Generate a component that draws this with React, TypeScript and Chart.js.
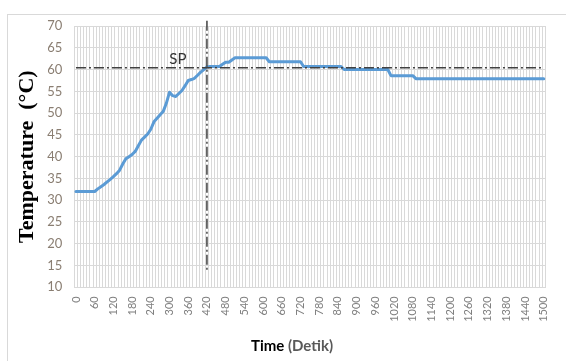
import React, { useEffect, useRef } from "react";
import { Chart, registerables } from "chart.js";

Chart.register(...registerables);

// Time in seconds (one category every 10 s)
const TIME_S = [
  0, 10, 20, 30, 40, 50, 60, 70, 80, 90, 100, 110, 120, 130, 140, 150, 160, 170, 180, 190,
  200, 210, 220, 230, 240, 250, 260, 270, 280, 290, 300, 310, 320, 330, 340, 350, 360, 370, 380, 390,
  400, 410, 420, 430, 440, 450, 460, 470, 480, 490, 500, 510, 520, 530, 540, 550, 560, 570, 580, 590,
  600, 610, 620, 630, 640, 650, 660, 670, 680, 690, 700, 710, 720, 730, 740, 750, 760, 770, 780, 790,
  800, 810, 820, 830, 840, 850, 860, 870, 880, 890, 900, 910, 920, 930, 940, 950, 960, 970, 980, 990,
  1000, 1010, 1020, 1030, 1040, 1050, 1060, 1070, 1080, 1090, 1100, 1110, 1120, 1130, 1140, 1150, 1160, 1170, 1180, 1190,
  1200, 1210, 1220, 1230, 1240, 1250, 1260, 1270, 1280, 1290, 1300, 1310, 1320, 1330, 1340, 1350, 1360, 1370, 1380, 1390,
  1400, 1410, 1420, 1430, 1440, 1450, 1460, 1470, 1480, 1490, 1500,
];

// Measured temperature (°C)
const TEMPERATURE_C = [
  32, 32, 32, 32, 32, 32, 32, 32.6, 33.1, 33.6,
  34.2, 34.8, 35.4, 36.1, 36.9, 38.3, 39.5, 40.0, 40.5, 41.2,
  42.5, 43.8, 44.5, 45.2, 46.3, 48.0, 48.8, 49.6, 50.4, 52.3,
  54.8, 54.0, 53.8, 54.5, 55.2, 56.3, 57.5, 57.7, 58.0, 58.7,
  59.4, 60.0, 60.6, 60.7, 60.7, 60.7, 60.7, 61.2, 61.7, 61.7,
  62.2, 62.7, 62.7, 62.7, 62.7, 62.7, 62.7, 62.7, 62.7, 62.7,
  62.7, 62.7, 61.8, 61.8, 61.8, 61.8, 61.8, 61.8, 61.8, 61.8,
  61.8, 61.8, 61.8, 60.7, 60.7, 60.7, 60.7, 60.7, 60.7, 60.7,
  60.7, 60.7, 60.7, 60.7, 60.7, 60.7, 60.0, 60.0, 60.0, 60.0,
  60.0, 60.0, 60.0, 60.0, 60.0, 60.0, 60.0, 60.0, 60.0, 60.0,
  60.0, 58.6, 58.6, 58.6, 58.6, 58.6, 58.6, 58.6, 58.6, 57.9,
  57.9, 57.9, 57.9, 57.9, 57.9, 57.9, 57.9, 57.9, 57.9, 57.9,
  57.9, 57.9, 57.9, 57.9, 57.9, 57.9, 57.9, 57.9, 57.9, 57.9,
  57.9, 57.9, 57.9, 57.9, 57.9, 57.9, 57.9, 57.9, 57.9, 57.9,
  57.9, 57.9, 57.9, 57.9, 57.9, 57.9, 57.9, 57.9, 57.9, 57.9,
  57.9,
];

const SETPOINT_C = 60.4;
const SETPOINT_LABEL = "SP";
const MARKER_TIME_S = 420;
const MARKER_RANGE_C = [71.2, 13.6];
const X_LABEL_EVERY_S = 60;
const Y_MIN = 10;
const Y_MAX = 70;
const Y_STEP = 5;
const Y_TITLE = "Temperature  (°C)";
const X_TITLE_MAIN = "Time";
const X_TITLE_UNIT = "(Detik)";

export default function App() {
  const ref = useRef<HTMLCanvasElement>(null);

  useEffect(() => {
    const canvas = ref.current;
    if (!canvas) return;

    const framePlugin = {
      id: "frame",
      beforeDraw(chart: any) {
        const ctx = chart.ctx;
        ctx.save();
        ctx.fillStyle = "#ffffff";
        ctx.fillRect(0, 0, chart.width, chart.height);
        ctx.strokeStyle = "#d9d9d9";
        ctx.lineWidth = 1;
        ctx.strokeRect(7.5, 14.5, 700, 500);
        ctx.restore();
      },
      afterDraw(chart: any) {
        const ctx = chart.ctx;
        const area = chart.chartArea;
        const xs = chart.scales.x;
        const ys = chart.scales.y;
        ctx.save();
        // Y title
        ctx.translate(27, (area.top + area.bottom) / 2);
        ctx.rotate(-Math.PI / 2);
        ctx.font = 'bold 22px "Liberation Serif"';
        ctx.fillStyle = "#000000";
        ctx.textAlign = "center";
        ctx.textBaseline = "middle";
        ctx.fillText(Y_TITLE, 0, 0);
        ctx.restore();

        // X title
        ctx.save();
        ctx.font = 'bold 15px Lato';
        ctx.textBaseline = "alphabetic";
        ctx.textAlign = "left";
        const w1 = ctx.measureText(X_TITLE_MAIN + " ").width;
        const w2 = ctx.measureText(X_TITLE_UNIT).width;
        const cx = 292;
        const x0 = cx - (w1 + w2) / 2;
        ctx.fillStyle = "#000000";
        ctx.fillText(X_TITLE_MAIN + " ", x0, 351);
        ctx.fillStyle = "#595959";
        ctx.fillText(X_TITLE_UNIT, x0 + w1, 351);
        ctx.restore();

        // SP label
        ctx.save();
        const idx = TIME_S.indexOf(MARKER_TIME_S);
        const mx = xs.getPixelForValue(idx);
        const my = ys.getPixelForValue(SETPOINT_C);
        ctx.font = '15px Lato';
        ctx.fillStyle = "#333333";
        ctx.textAlign = "center";
        ctx.textBaseline = "alphabetic";
        ctx.fillText(SETPOINT_LABEL, mx - 29, my - 4);
        ctx.restore();
      },
    };

    const chart = new Chart(canvas, {
      type: "line",
      data: {
        labels: TIME_S.map(String),
        datasets: [
          {
            label: "Temperature",
            data: TEMPERATURE_C,
            borderColor: "#5b9bd5",
            borderWidth: 3,
            pointRadius: 0,
            tension: 0,
            borderJoinStyle: "round",
            borderCapStyle: "round",
            order: 2,
          },
          {
            label: "SP",
            data: TIME_S.map(() => SETPOINT_C),
            borderColor: "#404040",
            borderWidth: 1.5,
            borderDash: [10, 3, 2, 3],
            pointRadius: 0,
            order: 1,
          },
          {
            label: "Marker",
            data: MARKER_RANGE_C.map((y) => ({ x: String(MARKER_TIME_S), y })),
            borderColor: "#404040",
            borderWidth: 1.5,
            borderDash: [10, 3, 2, 3],
            pointRadius: 0,
            clip: false,
            order: 1,
          },
        ],
      },
      options: {
        responsive: false,
        animation: false,
        layout: { padding: { left: 0, right: 16, top: 26, bottom: 0 } },
        plugins: {
          legend: { display: false },
          tooltip: { enabled: false },
        },
        scales: {
          x: {
            type: "category",
            offset: true,
            grid: { offset: true, color: "#d9d9d9", lineWidth: 1, drawTicks: false },
            border: { color: "#d9d9d9" },
            ticks: {
              autoSkip: false,
              minRotation: 90,
              maxRotation: 90,
              padding: 9,
              color: "#7f7f7f",
              font: { family: "Lato", size: 11 },
              callback: (_v: any, i: number) => {
                const t = TIME_S[i];
                return t % X_LABEL_EVERY_S === 0 ? String(t) : "";
              },
            },
            afterFit: (s: any) => {
              s.height = 73.7;
            },
          },
          y: {
            min: Y_MIN,
            max: Y_MAX,
            ticks: {
              stepSize: Y_STEP,
              padding: 12,
              color: "#8a7e72",
              font: { family: "Lato", size: 13 },
            },
            grid: { color: "#d9d9d9", drawTicks: false },
            border: { display: false },
            afterFit: (s: any) => {
              s.width = 74.4;
            },
          },
        },
      },
      plugins: [framePlugin],
    } as any);

    return () => chart.destroy();
  }, []);

  return (
    <div style={{ position: "fixed", left: 0, top: 0, width: 566, height: 361, background: "#fff" }}>
      <canvas ref={ref} width={566} height={361} style={{ display: "block", width: 566, height: 361 }} />
    </div>
  );
}
